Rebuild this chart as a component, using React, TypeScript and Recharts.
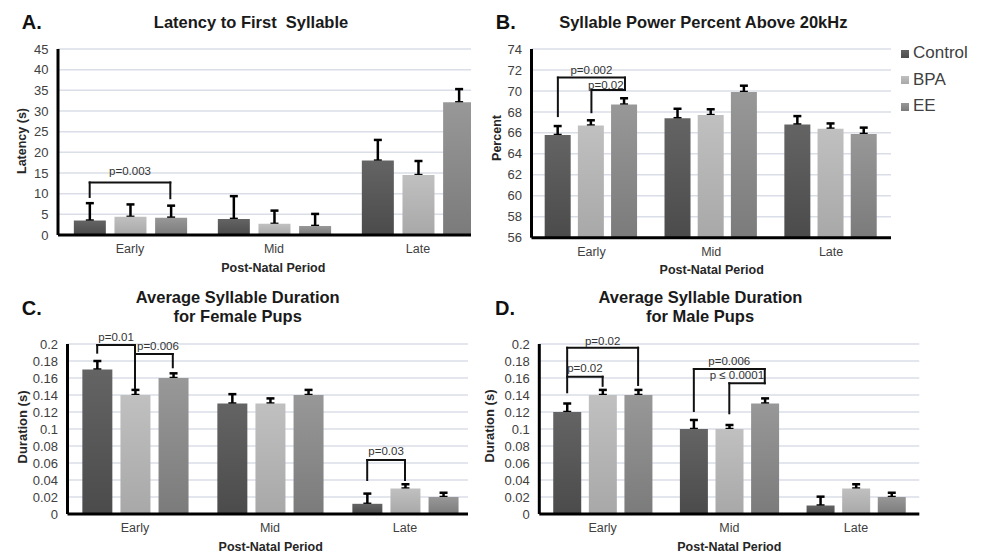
import React from 'react';
import {
  BarChart,
  Bar,
  ScatterChart,
  XAxis,
  YAxis,
  CartesianGrid,
  ErrorBar,
  ReferenceLine,
  ReferenceDot,
  Legend,
} from 'recharts';

const FONT = 'Arial, "Liberation Sans", Helvetica, sans-serif';

const periods = ['Early', 'Mid', 'Late'];
const groups = ['Control', 'BPA', 'EE'];

// A. latency to first syllable (s)
const latencyControl = [3.5, 3.9, 18.0];
const latencyBPA = [4.4, 2.7, 14.5];
const latencyEE = [4.2, 2.2, 32.1];
const latencyControlErr = [4.2, 5.5, 5.0];
const latencyBPAErr = [3.0, 3.2, 3.4];
const latencyEEErr = [2.9, 2.9, 3.2];
const latencyTicks = [0, 5, 10, 15, 20, 25, 30, 35, 40, 45];

// B. syllable power percent above 20kHz
const powerControl = [65.8, 67.4, 66.8];
const powerBPA = [66.7, 67.7, 66.4];
const powerEE = [68.7, 69.9, 65.9];
const powerControlErr = [0.85, 0.9, 0.8];
const powerBPAErr = [0.5, 0.55, 0.5];
const powerEEErr = [0.6, 0.6, 0.6];
const powerTicks = [56, 58, 60, 62, 64, 66, 68, 70, 72, 74];

// C. female pups, duration (s)
const femaleControl = [0.17, 0.13, 0.012];
const femaleBPA = [0.14, 0.13, 0.03];
const femaleEE = [0.16, 0.14, 0.02];
const femaleControlErr = [0.01, 0.011, 0.012];
const femaleBPAErr = [0.006, 0.006, 0.005];
const femaleEEErr = [0.0055, 0.006, 0.005];

// D. male pups, duration (s)
const maleControl = [0.12, 0.1, 0.01];
const maleBPA = [0.14, 0.1, 0.03];
const maleEE = [0.14, 0.13, 0.02];
const maleControlErr = [0.01, 0.0106, 0.0104];
const maleBPAErr = [0.006, 0.0047, 0.005];
const maleEEErr = [0.006, 0.006, 0.005];

const durationTicks = [0, 0.02, 0.04, 0.06, 0.08, 0.1, 0.12, 0.14, 0.16, 0.18, 0.2];

const keys = ['control', 'bpa', 'ee'];
const shades = [
  ['#646464', '#4b4b4b'],
  ['#c0c0c0', '#a8a8a8'],
  ['#989898', '#7b7b7b'],
];

type Bracket = {
  period: number;
  from: number;
  to: number;
  top: number;
  left: number;
  right: number;
  text: string;
  textY: number;
  shift?: number;
};

const latencyBrackets: Bracket[] = [
  { period: 0, from: 0, to: 2, top: 12.7, left: 9.2, right: 8.9, text: 'p=0.003', textY: 15.5 },
];
const powerBrackets: Bracket[] = [
  { period: 0, from: 0, to: 2, top: 71.27, left: 67.6, right: 70.09, text: 'p=0.002', textY: 72.0 },
  { period: 0, from: 1, to: 2, top: 70.09, left: 67.97, right: 70.09, text: 'p=0.02', textY: 70.62, shift: -0.02 },
];
const femaleBrackets: Bracket[] = [
  { period: 0, from: 0, to: 1, top: 0.1988, left: 0.1898, right: 0.1479, text: 'p=0.01', textY: 0.2079 },
  { period: 0, from: 1, to: 2, top: 0.1882, left: 0.1882, right: 0.1726, text: 'p=0.006', textY: 0.1976, shift: 0.03 },
  { period: 2, from: 0, to: 1, top: 0.0635, left: 0.04, right: 0.04, text: 'p=0.03', textY: 0.0745 },
];
const maleBrackets: Bracket[] = [
  { period: 0, from: 0, to: 2, top: 0.1956, left: 0.1432, right: 0.1518, text: 'p=0.02', textY: 0.2039 },
  { period: 0, from: 0, to: 1, top: 0.1615, left: 0.1615, right: 0.1508, text: 'p=0.02', textY: 0.1714 },
  { period: 1, from: 0, to: 2, top: 0.1706, left: 0.1212, right: 0.1538, text: 'p=0.006', textY: 0.18 },
  { period: 1, from: 1, to: 2, top: 0.1538, left: 0.1185, right: 0.1538, text: 'p \u2264 0.0001', textY: 0.1635, shift: -0.08 },
];

const CAT_GAP = 0.11;
const BAR_GAP = 0.06;
const BAR_W = (1 - 2 * CAT_GAP - 2 * BAR_GAP) / 3;
const barCenter = (period: number, series: number) =>
  period + CAT_GAP + series * (BAR_W + BAR_GAP) + BAR_W / 2;

function makeRows(means: number[][], errs: number[][]) {
  return periods.map((period, i) => {
    const row: any = { period };
    keys.forEach((k, s) => {
      row[k] = means[s][i];
      row[k + 'Err'] = [0, errs[s][i]];
    });
    return row;
  });
}

function bracketMarks(id: string, b: Bracket, i: number) {
  const x1 = barCenter(b.period, b.from);
  const x2 = barCenter(b.period, b.to);
  const line = {
    stroke: '#111',
    strokeWidth: 2,
    strokeLinecap: 'square' as const,
    ifOverflow: 'visible' as const,
  };
  const out = [
    <ReferenceLine key={`${id}-${i}-top`} {...line} segment={[{ x: x1, y: b.top }, { x: x2, y: b.top }]} />,
  ];
  if (b.left < b.top) {
    out.push(
      <ReferenceLine key={`${id}-${i}-l`} {...line} segment={[{ x: x1, y: b.left }, { x: x1, y: b.top }]} />,
    );
  }
  if (b.right < b.top) {
    out.push(
      <ReferenceLine key={`${id}-${i}-r`} {...line} segment={[{ x: x2, y: b.right }, { x: x2, y: b.top }]} />,
    );
  }
  out.push(
    <ReferenceDot
      key={`${id}-${i}-txt`}
      x={(x1 + x2) / 2 + (b.shift ?? 0)}
      y={b.textY}
      r={0}
      ifOverflow="visible"
      label={{ value: b.text, position: 'center', fill: '#333', fontSize: 11.5, fontFamily: FONT }}
    />,
  );
  return out;
}

type PanelProps = {
  id: string;
  rows: any[];
  domain: [number, number];
  ticks: number[];
  width: number;
  height: number;
  margin: { top: number; right: number; bottom: number; left: number };
  yWidth: number;
  brackets: Bracket[];
  legend?: boolean;
};

const X_AXIS_H = 30;

function Panel({ id, rows, domain, ticks, width, height, margin, yWidth, brackets, legend }: PanelProps) {
  // overlay margins reproduce the bar chart's plot box so brackets share its coordinates
  const overlayMargin = {
    top: margin.top,
    right: margin.right,
    bottom: margin.bottom + X_AXIS_H,
    left: margin.left + yWidth,
  };
  return (
    <>
      <BarChart
        width={width}
        height={height}
        data={rows}
        margin={margin}
        barCategoryGap={`${CAT_GAP * 100}%`}
        barGap={`${BAR_GAP * 100}%`}
      >
        <defs>
          {shades.map((c, i) => (
            <linearGradient key={i} id={`${id}-g${i}`} x1="0" y1="0" x2="0" y2="1">
              <stop offset="0%" stopColor={c[0]} />
              <stop offset="100%" stopColor={c[1]} />
            </linearGradient>
          ))}
        </defs>
        <CartesianGrid vertical={false} stroke="#dadee7" strokeWidth={1.5} />
        <XAxis
          dataKey="period"
          height={X_AXIS_H}
          axisLine={{ stroke: '#000', strokeWidth: 3 }}
          tickLine={false}
          tickSize={0}
          tickMargin={9}
          interval={0}
          tick={{ fill: '#404040', fontSize: 12.5, fontFamily: FONT }}
        />
        <YAxis
          domain={domain}
          ticks={ticks}
          width={yWidth}
          allowDataOverflow
          interval={0}
          axisLine={{ stroke: '#000', strokeWidth: 3 }}
          tickLine={false}
          tickSize={0}
          tickMargin={9.5}
          tick={{ fill: '#404040', fontSize: 13, fontFamily: FONT }}
        />
        {keys.map((k, i) => (
          <Bar key={k} dataKey={k} name={groups[i]} fill={`url(#${id}-g${i})`} isAnimationActive={false}>
            <ErrorBar
              dataKey={k + 'Err'}
              direction="y"
              width={4}
              strokeWidth={2.5}
              stroke="#000"
              {...({ zIndex: 250 } as any)}
            />
          </Bar>
        ))}
        {legend && (
          <Legend
            layout="vertical"
            align="center"
            verticalAlign="middle"
            iconType="square"
            iconSize={8}
            itemSorter={(item: any) => groups.indexOf(item.value)}
            wrapperStyle={{ left: 411, top: 40, width: 80, fontFamily: FONT, fontSize: 17, lineHeight: '26.7px' }}
            formatter={(v: any) => <span style={{ color: '#404040' }}>{v}</span>}
          />
        )}
      </BarChart>
      <div style={{ position: 'absolute', left: 0, top: 0 }}>
        <ScatterChart width={width} height={height} margin={overlayMargin}>
          <XAxis type="number" dataKey="x" domain={[0, periods.length]} allowDataOverflow hide />
          <YAxis type="number" dataKey="y" domain={domain} allowDataOverflow hide />
          {brackets.flatMap((b, i) => bracketMarks(id, b, i))}
        </ScatterChart>
      </div>
    </>
  );
}

type Txt = { t: string; x: number; y: number; size: number; bold?: boolean; rot?: boolean; color?: string };

const texts: Txt[] = [
  { t: 'A.', x: 31.7, y: 22, size: 20, bold: true, color: '#111' },
  { t: 'B.', x: 505.7, y: 22, size: 20, bold: true, color: '#111' },
  { t: 'C.', x: 31.7, y: 308, size: 20, bold: true, color: '#111' },
  { t: 'D.', x: 505, y: 308, size: 20, bold: true, color: '#111' },
  { t: 'Latency to First  Syllable', x: 251, y: 22.3, size: 16.5, bold: true, color: '#1a1a1a' },
  { t: 'Syllable Power Percent Above 20kHz', x: 703.3, y: 22.3, size: 16.5, bold: true, color: '#1a1a1a' },
  { t: 'Average Syllable Duration', x: 237.7, y: 297.3, size: 16.5, bold: true, color: '#1a1a1a' },
  { t: 'for Female Pups', x: 237.7, y: 316, size: 16.5, bold: true, color: '#1a1a1a' },
  { t: 'Average Syllable Duration', x: 700.5, y: 297.3, size: 16.5, bold: true, color: '#1a1a1a' },
  { t: 'for Male Pups', x: 700, y: 316, size: 16.5, bold: true, color: '#1a1a1a' },
  { t: 'Latency (s)', x: 21.7, y: 141, size: 12.5, bold: true, rot: true },
  { t: 'Percent', x: 496.5, y: 138.3, size: 12.5, bold: true, rot: true },
  { t: 'Duration (s)', x: 21.7, y: 426.7, size: 13, bold: true, rot: true },
  { t: 'Duration (s)', x: 489, y: 426, size: 13, bold: true, rot: true },
  { t: 'Post-Natal Period', x: 273.3, y: 267.7, size: 12.5, bold: true },
  { t: 'Post-Natal Period', x: 711.7, y: 270, size: 12.5, bold: true },
  { t: 'Post-Natal Period', x: 270.7, y: 546.7, size: 12.5, bold: true },
  { t: 'Post-Natal Period', x: 729.3, y: 546.7, size: 12.5, bold: true },
];

export default function App() {
  const latencyRows = makeRows(
    [latencyControl, latencyBPA, latencyEE],
    [latencyControlErr, latencyBPAErr, latencyEEErr],
  );
  const powerRows = makeRows([powerControl, powerBPA, powerEE], [powerControlErr, powerBPAErr, powerEEErr]);
  const femaleRows = makeRows(
    [femaleControl, femaleBPA, femaleEE],
    [femaleControlErr, femaleBPAErr, femaleEEErr],
  );
  const maleRows = makeRows([maleControl, maleBPA, maleEE], [maleControlErr, maleBPAErr, maleEEErr]);

  return (
    <div
      style={{
        position: 'absolute',
        left: 0,
        top: 0,
        width: 981,
        height: 555,
        background: '#fff',
        overflow: 'hidden',
        fontFamily: FONT,
      }}
    >
      <div style={{ position: 'absolute', left: 0, top: 0, width: 471, height: 280, overflow: 'hidden' }}>
        <Panel
          id="a"
          rows={latencyRows}
          domain={[0, 45]}
          ticks={latencyTicks}
          width={500}
          height={280}
          margin={{ top: 49, right: 10, bottom: 15, left: 18 }}
          yWidth={40}
          brackets={latencyBrackets}
        />
      </div>
      <div style={{ position: 'absolute', left: 490, top: 0, width: 491, height: 280 }}>
        <Panel
          id="b"
          rows={powerRows}
          domain={[56, 74]}
          ticks={powerTicks}
          width={491}
          height={280}
          margin={{ top: 49, right: 90, bottom: 12.3, left: 6.5 }}
          yWidth={35}
          brackets={powerBrackets}
          legend
        />
      </div>
      <div style={{ position: 'absolute', left: 0, top: 280, width: 468, height: 275, overflow: 'hidden' }}>
        <Panel
          id="c"
          rows={femaleRows}
          domain={[0, 0.2]}
          ticks={durationTicks}
          width={490}
          height={275}
          margin={{ top: 64, right: 17.5, bottom: 11, left: 17.5 }}
          yWidth={50}
          brackets={femaleBrackets}
        />
      </div>
      <div style={{ position: 'absolute', left: 490, top: 280, width: 440, height: 275 }}>
        <Panel
          id="d"
          rows={maleRows}
          domain={[0, 0.2]}
          ticks={durationTicks}
          width={440}
          height={275}
          margin={{ top: 64, right: 10.7, bottom: 11, left: 5.3 }}
          yWidth={44}
          brackets={maleBrackets}
        />
      </div>
      {texts.map((d, i) => (
        <div
          key={i}
          style={{
            position: 'absolute',
            left: d.x,
            top: d.y,
            transform: `translate(-50%, -50%)${d.rot ? ' rotate(-90deg)' : ''}`,
            whiteSpace: 'pre',
            fontSize: d.size,
            fontWeight: d.bold ? 700 : 400,
            color: d.color ?? '#262626',
            lineHeight: 1,
          }}
        >
          {d.t}
        </div>
      ))}
    </div>
  );
}
